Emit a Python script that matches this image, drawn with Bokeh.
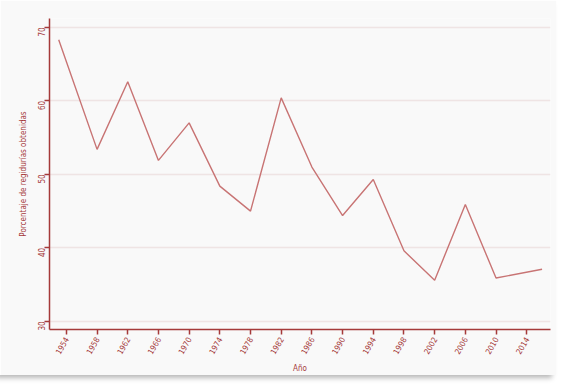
import math
from bokeh.plotting import figure
from bokeh.models import FixedTicker, Range1d
from bokeh.embed import file_html
from bokeh.resources import INLINE

years = [1953, 1958, 1962, 1966, 1970, 1974, 1978, 1982, 1986, 1990, 1994, 1998, 2002, 2006, 2010, 2016]
values = [68.3, 53.4, 62.6, 51.9, 57.0, 48.4, 45.0, 60.4, 51.0, 44.4, 49.3, 39.6, 35.6, 45.9, 35.9, 37.1]
x_ticks = [1954, 1958, 1962, 1966, 1970, 1974, 1978, 1982, 1986, 1990, 1994, 1998, 2002, 2006, 2010, 2014]
y_ticks = [30, 40, 50, 60, 70]

AX = "#a53a3a"
FONT = "DejaVu Sans Condensed"

p = figure(width=556, height=375, output_backend="svg", toolbar_location=None,
           x_range=Range1d(1951.8, 2017.1), y_range=Range1d(28.9, 71.2),
           min_border_left=49, min_border_right=6, min_border_top=18, min_border_bottom=44)
p.styles = {"box-shadow": "-4px 3px 5px #b8b8b8"}
p.background_fill_color = "#f9f9f9"
p.border_fill_color = "#f9f9f9"
p.outline_line_color = None

p.line(years, values, line_color="#c87474", line_width=1.4)

p.xgrid.grid_line_color = None
p.ygrid.grid_line_color = "#efe4e4"
p.ygrid.grid_line_width = 1.5

p.xaxis.ticker = FixedTicker(ticks=x_ticks)
p.yaxis.ticker = FixedTicker(ticks=y_ticks)
p.xaxis.major_label_orientation = math.pi / 3
p.yaxis.major_label_orientation = math.pi / 2

for ax in (p.xaxis[0], p.yaxis[0]):
    ax.axis_line_color = AX
    ax.axis_line_width = 1.5
    ax.major_tick_line_color = AX
    ax.major_tick_line_width = 1.5
    ax.major_tick_out = 5
    ax.major_tick_in = 0
    ax.minor_tick_line_color = None
    ax.major_label_text_color = AX
    ax.major_label_text_font = FONT
    ax.major_label_text_font_size = "8px"
    ax.axis_label_text_color = AX
    ax.axis_label_text_font = FONT
    ax.axis_label_text_font_size = "8px"
    ax.axis_label_text_font_style = "normal"
    ax.major_label_standoff = 3
    ax.axis_label_standoff = 4

p.xaxis.axis_label = "Año"
p.yaxis.axis_label = "Porcentaje de regidurías obtenidas"

open("out.html", "w").write(file_html(p, INLINE))
